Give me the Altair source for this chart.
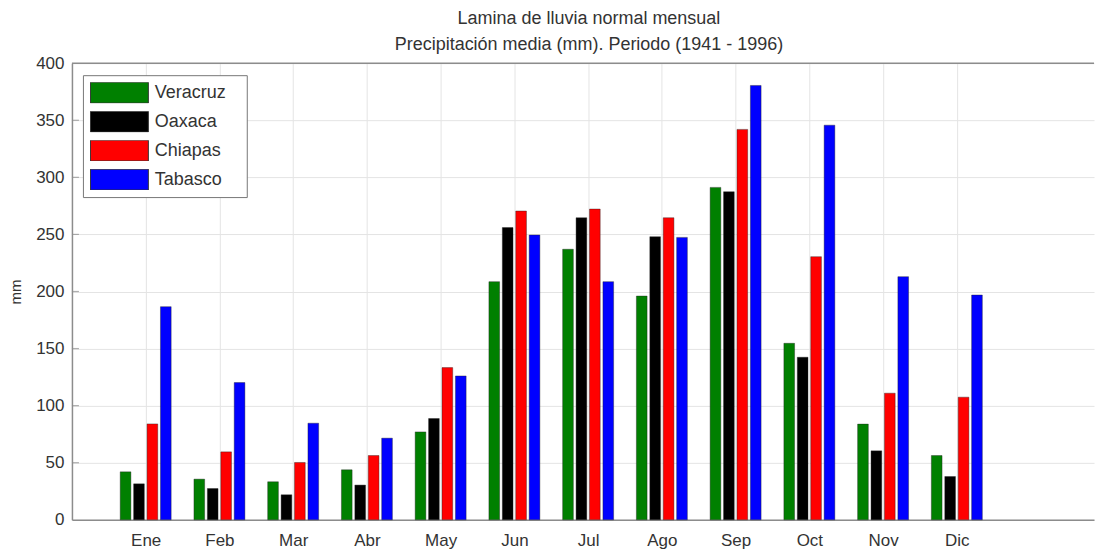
import altair as alt
import pandas as pd

months = ["Ene", "Feb", "Mar", "Abr", "May", "Jun", "Jul", "Ago", "Sep", "Oct", "Nov", "Dic"]
states = ["Veracruz", "Oaxaca", "Chiapas", "Tabasco"]
colors = ["#008000", "#000000", "#ff0000", "#0000ff"]

veracruz = [42, 35.6, 33.3, 43.8, 77, 208.6, 237, 196, 291.2, 154.6, 83.8, 56.3]
oaxaca = [31.5, 27.4, 21.9, 30.4, 88.7, 256, 264.6, 248, 287.4, 142.4, 60.4, 37.9]
chiapas = [84, 59.5, 50.2, 56.3, 133.3, 270.5, 272.2, 264.6, 342, 230.5, 110.9, 107.4]
tabasco = [186.7, 120.2, 84.6, 71.5, 126, 249.5, 208.6, 247.4, 380.5, 345.7, 213, 196.9]

y_ticks = [0, 50, 100, 150, 200, 250, 300, 350, 400]
series = [veracruz, oaxaca, chiapas, tabasco]

rows = []
for si, (name, vals) in enumerate(zip(states, series)):
    for mi, v in enumerate(vals):
        rows.append({"mes": mi + 1, "serie": si, "estado": name, "mm": v})
df = pd.DataFrame(rows)

step = 0.182
bw = 0.145

month_expr = "[" + ",".join(f"'{m}'" for m in months) + "][datum.value - 1]"
xscale = alt.Scale(domain=[0, 13.86], nice=False, zero=False)
yscale = alt.Scale(domain=[0, 400], nice=False)

bars = alt.Chart(df).transform_calculate(
    x0=f"datum.mes + (datum.serie - 1.5) * {step} - {bw / 2}",
    x1=f"datum.mes + (datum.serie - 1.5) * {step} + {bw / 2}",
).mark_bar(stroke="#222222", strokeWidth=0.4).encode(
    x=alt.X("x0:Q", scale=xscale,
            axis=alt.Axis(values=list(range(1, 13)), labelExpr=month_expr, title=None,
                          grid=True, gridColor="#e4e4e4", tickSize=0, labelPadding=13,
                          labelFontSize=17, labelColor="#333333", labelFont="Arial",
                          domainColor="#8c8c8c", domainWidth=1.5)),
    x2="x1:Q",
    y=alt.Y("mm:Q", scale=yscale,
            axis=alt.Axis(values=y_ticks, title="mm", titleFontSize=15, titleFontWeight="normal",
                          titleColor="#333333", titleFont="Arial", titlePadding=12,
                          grid=True, gridColor="#e4e4e4", tickSize=0, labelPadding=8,
                          labelFontSize=17, labelColor="#333333", labelFont="Arial",
                          domainColor="#8c8c8c", domainWidth=1.5)),
    y2=alt.datum(0),
    color=alt.Color("estado:N", scale=alt.Scale(domain=states, range=colors),
                    legend=alt.Legend(orient="none", legendX=11, legendY=12,
                                      title="\u00a0", titleOrient="right", titleFontSize=4,
                                      titlePadding=14,
                                      symbolType="M-1,-0.36L1,-0.36L1,0.36L-1,0.36Z",
                                      symbolSize=3364, clipHeight=21, rowPadding=8,
                                      symbolStrokeColor="#333333", symbolStrokeWidth=1,
                                      symbolOpacity=1,
                                      labelFontSize=18, labelFont="Arial", labelColor="#333333",
                                      labelOffset=6, padding=7, strokeColor="#777777",
                                      fillColor="#ffffff")),
)

top_line = alt.Chart(pd.DataFrame({"y": [y_ticks[-1]]})).mark_rule(
    color="#8c8c8c", strokeWidth=1.5
).encode(y=alt.Y("y:Q", scale=yscale))

left_ticks = alt.Chart(pd.DataFrame({"y": y_ticks[1:-1]})).mark_tick(
    orient="horizontal", size=7, thickness=1.2, color="#8c8c8c", xOffset=3.5
).encode(y=alt.Y("y:Q", scale=yscale), x=alt.datum(0))

chart = alt.layer(bars, top_line, left_ticks).properties(
    width=1023,
    height=457,
    padding={"left": 0, "top": 2, "right": 0, "bottom": 0},
    title=alt.TitleParams(
        ["Lamina de lluvia normal mensual", "Precipitación media (mm). Periodo (1941 - 1996)"],
        fontSize=18, fontWeight="normal", color="#333333", font="Arial",
        lineHeight=26, anchor="middle", frame="group", dx=6, offset=0,
    ),
).configure_view(stroke=None)

chart.save("out.html", embed_options={"renderer": "svg", "actions": False})
